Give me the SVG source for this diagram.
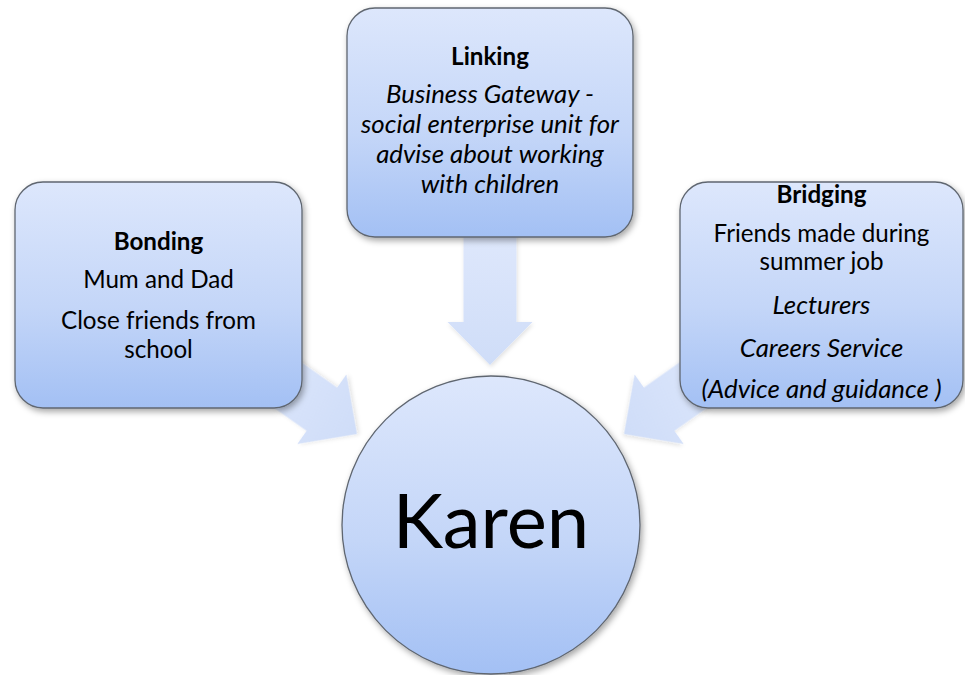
<svg xmlns="http://www.w3.org/2000/svg" width="965" height="675" viewBox="0 0 965 675">
  <defs>
    <linearGradient id="boxGrad" x1="0" y1="0" x2="0" y2="1">
      <stop offset="0" stop-color="#dde7fc"/>
      <stop offset="0.55" stop-color="#c4d6f8"/>
      <stop offset="1" stop-color="#a3c0f4"/>
    </linearGradient>
    <linearGradient id="arrowGrad" x1="0" y1="0" x2="0" y2="1">
      <stop offset="0" stop-color="#dfe8fc"/>
      <stop offset="1" stop-color="#cfddf8"/>
    </linearGradient>
    <filter id="shadow" x="-20%" y="-20%" width="140%" height="140%">
      <feDropShadow dx="2" dy="3" stdDeviation="3" flood-color="#000" flood-opacity="0.35"/>
    </filter>
    <filter id="ashadow" x="-20%" y="-20%" width="140%" height="140%">
      <feDropShadow dx="1" dy="2" stdDeviation="2" flood-color="#000" flood-opacity="0.12"/>
    </filter>
  </defs>
  <style>
    .box { fill: url(#boxGrad); stroke: #5f6670; stroke-width: 1.3; filter: url(#shadow); }
    .arrow { fill: url(#arrowGrad); stroke: none; filter: url(#ashadow); }
    text { font-family: Lato, "Open Sans", "Liberation Sans", sans-serif; fill: #000; text-anchor: middle; }
    .t { font-size: 24.2px; }
    .h { font-size: 24.2px; font-weight: bold; }
    .i { font-size: 25.8px; font-style: italic; }
    .big { font-size: 76px; }
  </style>
  <rect width="965" height="675" fill="#ffffff"/>

  <g id="connectors">
    <path class="arrow" transform="translate(490,365)" d="M0,0 L-42.5,-43 L-26.5,-43 L-26.5,-140 L26.5,-140 L26.5,-43 L42.5,-43 Z"/>
    <path class="arrow" transform="translate(357,434) rotate(-54.8)" d="M0,0 L-42.5,-43 L-26.5,-43 L-26.5,-140 L26.5,-140 L26.5,-43 L42.5,-43 Z"/>
    <path class="arrow" transform="translate(624,434) rotate(54.8)" d="M0,0 L-42.5,-43 L-26.5,-43 L-26.5,-140 L26.5,-140 L26.5,-43 L42.5,-43 Z"/>
  </g>

  <g id="bonding">
    <rect class="box" x="15" y="182" width="287" height="226" rx="28" ry="28"/>
    <text class="h" x="158.5" y="250">Bonding</text>
    <text class="t" x="158.5" y="288">Mum and Dad</text>
    <text class="t" x="158.5" y="329">Close friends from</text>
    <text class="t" x="158.5" y="358">school</text>
  </g>

  <g id="linking">
    <rect class="box" x="347" y="8" width="286" height="229" rx="28" ry="28"/>
    <text class="h" x="490" y="65">Linking</text>
    <text class="i" x="490" y="103">Business Gateway -</text>
    <text class="i" x="490" y="133">social enterprise unit for</text>
    <text class="i" x="490" y="163">advise about working</text>
    <text class="i" x="490" y="193">with children</text>
  </g>

  <g id="bridging">
    <rect class="box" x="680" y="182" width="283" height="226" rx="28" ry="28"/>
    <text class="h" x="821.5" y="203">Bridging</text>
    <text class="t" x="821.5" y="242">Friends made during</text>
    <text class="t" x="821.5" y="270">summer job</text>
    <text class="i" x="821.5" y="314">Lecturers</text>
    <text class="i" x="821.5" y="357">Careers Service</text>
    <text class="i" x="821.5" y="398">(Advice and guidance )</text>
  </g>

  <g id="karen">
    <circle class="box" cx="491" cy="525" r="149"/>
    <text class="big" x="491" y="548">Karen</text>
  </g>
</svg>
